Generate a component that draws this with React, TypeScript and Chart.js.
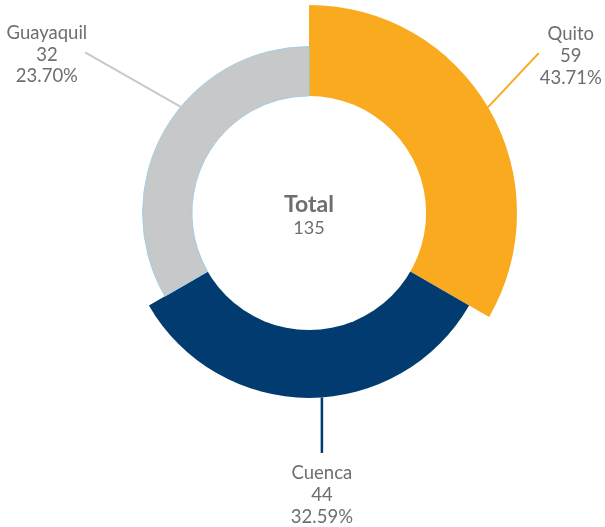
import React, { useEffect, useRef } from "react";
import { Chart, registerables } from "chart.js";

Chart.register(...registerables);

// ---- data ----
const categories = ["Quito", "Cuenca", "Guayaquil"];
const values = [59, 44, 32];
const percentLabels = ["43.71%", "32.59%", "23.70%"];
const totalLabel = "Total";
const totalValue = 135;

// ---- styles ----
const colors = ["#F9AA1E", "#013B6F", "#C6C8CA"];
const borderColors = ["#F9AA1E", "#013B6F", "#9FCFE3"];
const borderWidths = [0, 0, 1];
const textColor = "#6D6E71";
const radialMin = -76;
const radialMax = 59;
// label/leader layout: angle offset (deg), leader end offset, text offset from leader end
const labelLayout = [
  { angleOffset: -0.6, dx: 50.7, dy: -54, tx: 32, ty: -12.7, width: 2 },
  { angleOffset: -4, dx: 0, dy: 55.5, tx: 0, ty: 26.3, width: 2.5 },
  { angleOffset: 9.6, dx: -95.7, dy: -54.6, tx: -38.2, ty: -13.4, width: 2 },
];

const overlayPlugin = {
  id: "overlay",
  afterDatasetsDraw(chart: any) {
    const ctx = chart.ctx;
    const s = chart.scales.r;
    const cx = s.xCenter;
    const cy = s.yCenter;
    const r0 = s.getDistanceFromCenterForValue(0);
    const meta = chart.getDatasetMeta(0);

    ctx.save();
    // hole
    ctx.beginPath();
    ctx.arc(cx, cy, r0, 0, Math.PI * 2);
    ctx.fillStyle = "#ffffff";
    ctx.fill();
    // thin outline on hole edge of bordered slices
    meta.data.forEach((el: any, i: number) => {
      if (borderWidths[i] > 0) {
        ctx.beginPath();
        ctx.arc(cx, cy, r0, el.startAngle, el.endAngle);
        ctx.strokeStyle = borderColors[i];
        ctx.lineWidth = borderWidths[i];
        ctx.stroke();
      }
    });

    // center text
    ctx.fillStyle = textColor;
    ctx.textAlign = "center";
    ctx.textBaseline = "middle";
    ctx.font = "bold 23px Lato";
    ctx.fillText(totalLabel, cx, cy - 8);
    ctx.font = "18px Lato";
    ctx.fillText(String(totalValue), cx, cy + 15);

    // leader lines + labels
    meta.data.forEach((el: any, i: number) => {
      const L = labelLayout[i];
      const mid = (el.startAngle + el.endAngle) / 2 + (L.angleOffset * Math.PI) / 180;
      const sx = el.x + Math.cos(mid) * el.outerRadius;
      const sy = el.y + Math.sin(mid) * el.outerRadius;
      const ex = sx + L.dx;
      const ey = sy + L.dy;
      ctx.beginPath();
      ctx.moveTo(sx, sy);
      ctx.lineTo(ex, ey);
      ctx.strokeStyle = colors[i];
      ctx.lineWidth = L.width;
      ctx.stroke();

      ctx.fillStyle = textColor;
      ctx.font = "18.5px Lato";
      ctx.textAlign = "center";
      ctx.textBaseline = "alphabetic";
      const lines = [categories[i], String(values[i]), percentLabels[i]];
      lines.forEach((t, k) => {
        ctx.fillText(t, ex + L.tx, ey + L.ty + k * 21.7);
      });
    });
    ctx.restore();
  },
};

export default function App() {
  const ref = useRef<HTMLCanvasElement | null>(null);
  useEffect(() => {
    if (!ref.current) return;
    const chart = new Chart(ref.current, {
      type: "polarArea",
      data: {
        labels: categories,
        datasets: [
          {
            data: values,
            backgroundColor: colors,
            borderColor: borderColors,
            borderWidth: borderWidths,
          },
        ],
      },
      options: {
        responsive: false,
        animation: false,
        layout: { padding: { left: 101, right: 87, top: 5, bottom: 106 } },
        scales: {
          r: {
            display: false,
            min: radialMin,
            max: radialMax,
            startAngle: 0,
          },
        },
        plugins: {
          legend: { display: false },
          tooltip: { enabled: false },
        },
      },
      plugins: [overlayPlugin],
    });
    return () => chart.destroy();
  }, []);
  return (
    <canvas
      ref={ref}
      width={605}
      height={527}
      style={{ position: "absolute", left: 0, top: 0, display: "block" }}
    />
  );
}
